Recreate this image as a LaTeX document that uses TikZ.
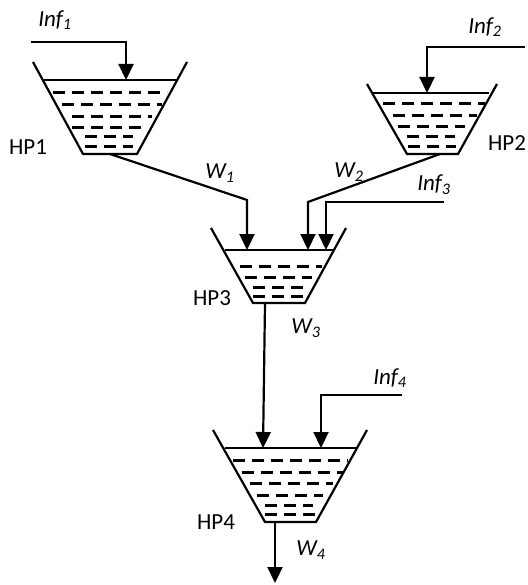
\documentclass[tikz,border=0pt]{standalone}
\usepackage{fontspec}
\setmainfont{Carlito}
\usetikzlibrary{arrows.meta}
\begin{document}
\begin{tikzpicture}[x=1pt,y=-1pt,
  wall/.style={line width=2.2pt},
  flow/.style={line width=2.2pt,-{Triangle[length=16pt,width=15pt]}},
  water/.style={line width=3pt,dash pattern=on 12pt off 7pt},
  lbl/.style={font=\fontsize{23}{27}\selectfont,inner sep=0pt},
  ilbl/.style={font=\fontsize{23}{27}\selectfont\itshape,inner sep=0pt}]
\useasboundingbox (0,0) rectangle (527,585);
% ---- HP1
\draw[wall] (33,62) -- (83,154) -- (137,154) -- (187,62);
\draw[wall] (44,80) -- (177,80);
\foreach \y/\a/\b in {93/53/167,105/62/162,117/72/152,128/72/143,137/85/133,147/85/133}
  \draw[water] (\a,\y) -- (\b,\y);
% ---- HP2
\draw[wall] (367,84) -- (407,154) -- (458,154) -- (497,84);
\draw[wall] (373,93) -- (489,93);
\foreach \y/\a/\b in {104/383/485,116/393/477,127/398/465,137/407/455,147/408/456}
  \draw[water] (\a,\y) -- (\b,\y);
% ---- HP3
\draw[wall] (211,228) -- (253,303) -- (305,303) -- (346,228);
\draw[wall] (225,250) -- (335,250);
\foreach \y/\a/\b in {266/240/322,277/245/312,287/253/305,296/253/305}
  \draw[water] (\a,\y) -- (\b,\y);
% ---- HP4
\draw[wall] (213,430) -- (265,522) -- (316,522) -- (367,430);
\draw[wall] (225,448) -- (357,448);
\foreach \y/\a/\b in {460/233/348,472/242/343,483/250/333,495/257/323,505/265/313,514/265/315}
  \draw[water] (\a,\y) -- (\b,\y);
% ---- named points
\coordinate (i1s) at (31,42);   \coordinate (i1e) at (126,80);
\coordinate (i2s) at (525,47);  \coordinate (i2e) at (427,93);
\coordinate (i3s) at (444,202); \coordinate (i3e) at (326,250);
\coordinate (i4s) at (402,395); \coordinate (i4e) at (321,448);
\coordinate (o1) at (110,154);  \coordinate (w1e) at (247,250);
\coordinate (o2) at (440,154);  \coordinate (w2e) at (308,250);
\coordinate (o3) at (265,303);  \coordinate (w3e) at (263,448);
\coordinate (o4) at (275,522);  \coordinate (w4e) at (275,583);
% ---- connectors
\draw[flow] (i1s) -- (i1s -| i1e) -- (i1e);
\draw[flow] (i2s) -- (i2s -| i2e) -- (i2e);
\draw[flow] (i3s) -- (i3s -| i3e) -- (i3e);
\draw[flow] (i4s) -- (i4s -| i4e) -- (i4e);
\draw[flow] (o1) -- (247,200) -- (w1e);
\draw[flow] (o2) -- (308,202) -- (w2e);
\draw[flow] (o3) -- (w3e);
\draw[flow] (o4) -- (w4e);
% ---- labels
\node[ilbl] (l1) at (55,20) {Inf\textsubscript{1}};
\node[ilbl] (l2) at (485,27) {Inf\textsubscript{2}};
\node[ilbl] (l3) at (434,185) {Inf\textsubscript{3}};
\node[ilbl] (l4) at (390,378) {Inf\textsubscript{4}};
\node[ilbl] (lw1) at (220,173) {W\textsubscript{1}};
\node[ilbl] (lw2) at (349,172) {W\textsubscript{2}};
\node[ilbl] (lw3) at (306,328) {W\textsubscript{3}};
\node[ilbl] (lw4) at (311,550) {W\textsubscript{4}};
\node[lbl] (h1) at (28,147) {HP1};
\node[lbl] (h2) at (507,143) {HP2};
\node[lbl] (h3) at (212,298) {HP3};
\node[lbl] (h4) at (216,522) {HP4};
\end{tikzpicture}
\end{document}
